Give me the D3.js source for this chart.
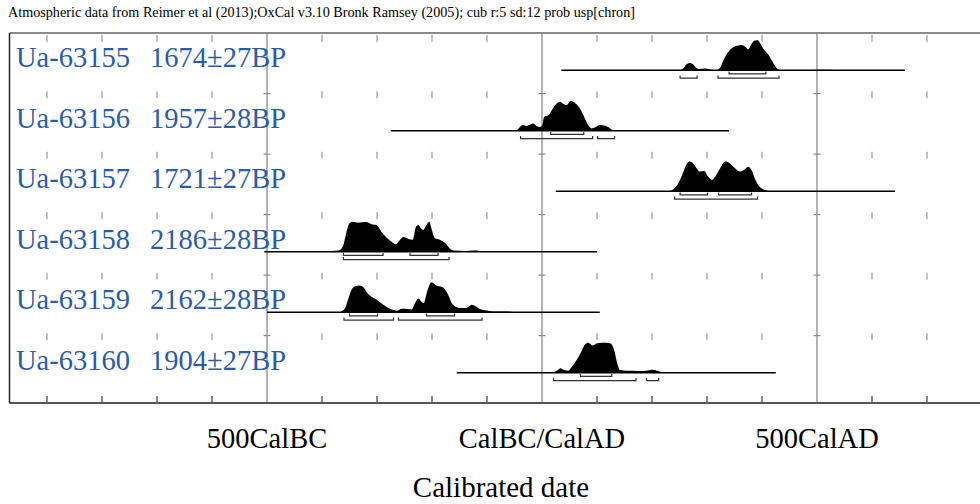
<!DOCTYPE html>
<html>
<head>
<meta charset="utf-8">
<script src="https://cdn.jsdelivr.net/npm/d3@7"></script>
<style>
  body { margin: 0; background: #fff; }
  svg { display: block; }
  text { font-family: "Liberation Serif", "Times New Roman", serif; }
</style>
</head>
<body>
<svg id="chart" width="980" height="504"></svg>
<script>
// ########## DANE ##########
const titleText = "Atmospheric data from Reimer et al (2013);OxCal v3.10 Bronk Ramsey (2005); cub r:5 sd:12 prob usp[chron]";
const sampleIds = ["Ua-63155", "Ua-63156", "Ua-63157", "Ua-63158", "Ua-63159", "Ua-63160"];
const bpDates = ["1674\u00b127BP", "1957\u00b128BP", "1721\u00b127BP", "2186\u00b128BP", "2162\u00b128BP", "1904\u00b127BP"];

// zakres linii bazowej (lata kalendarzowe, BC ujemne)
const lineRanges = [[35, 660], [-275, 340], [25, 642], [-505, 100], [-500, 105], [-155, 425]];

// rozkłady prawdopodobieństwa [rok, względna wysokość]
const dens63155 = [[251, 0], [257, 0.07], [263, 0.2], [269, 0.24], [275, 0.19], [281, 0.07], [287, 0.04],
  [296, 0.06], [305, 0.03], [318, 0.01], [324, 0.09], [330, 0.34], [339, 0.62], [348, 0.77], [357, 0.83],
  [363, 0.84], [369, 0.79], [375, 0.7], [381, 0.88], [387, 0.99], [392, 1.0], [396, 0.92], [402, 0.73],
  [412, 0.51], [421, 0.23], [427, 0.07], [432, 0.01], [480, 0.005], [500, 0.02], [525, 0.02], [535, 0]];
const dens63156 = [[-46, 0], [-40, 0.13], [-34, 0.19], [-28, 0.16], [-22, 0.2], [-16, 0.24], [-10, 0.16],
  [-4, 0.13], [0, 0.16], [4, 0.47], [12, 0.52], [18, 0.69], [24, 0.86], [33, 0.97], [39, 0.89], [45, 0.86],
  [52, 0.99], [60, 0.93], [69, 0.74], [78, 0.41], [84, 0.19], [90, 0.08], [96, 0.11], [105, 0.19],
  [115, 0.17], [124, 0.08], [130, 0]];
const dens63157 = [[230, 0], [239, 0.07], [248, 0.27], [256, 0.6], [262, 0.88], [268, 0.99], [275, 0.93],
  [281, 0.77], [287, 0.66], [295, 0.68], [302, 0.49], [309, 0.38], [315, 0.49], [324, 0.77], [333, 0.99],
  [339, 0.96], [348, 0.82], [360, 0.66], [367, 0.71], [375, 0.82], [381, 0.71], [387, 0.43], [393, 0.21],
  [402, 0.07], [415, 0]];
const dens63158 = [[-420, 0], [-392, 0.01], [-370, 0.04], [-362, 0.18], [-356, 0.62], [-350, 0.95],
  [-344, 1.0], [-334, 0.97], [-320, 0.99], [-310, 0.92], [-301, 0.89], [-292, 0.67], [-282, 0.46],
  [-273, 0.33], [-266, 0.25], [-258, 0.4], [-252, 0.49], [-243, 0.43], [-235, 0.4], [-229, 0.84],
  [-225, 0.89], [-220, 0.78], [-216, 0.73], [-210, 0.89], [-205, 1.0], [-201, 0.78], [-195, 0.46],
  [-186, 0.4], [-176, 0.29], [-167, 0.1], [-161, 0.04], [-137, 0.03], [-125, 0.04], [-113, 0.03],
  [-89, 0.02], [-58, 0.02], [-40, 0]];
const dens63159 = [[-380, 0], [-367, 0.01], [-358, 0.14], [-352, 0.46], [-346, 0.76], [-340, 0.87],
  [-331, 0.89], [-325, 0.84], [-319, 0.68], [-310, 0.52], [-301, 0.43], [-292, 0.3], [-282, 0.17],
  [-273, 0.09], [-264, 0.05], [-255, 0.12], [-246, 0.11], [-237, 0.09], [-231, 0.3], [-225, 0.46],
  [-219, 0.35], [-215, 0.3], [-210, 0.62], [-205, 0.89], [-201, 1.0], [-192, 0.89], [-182, 0.84],
  [-175, 0.73], [-169, 0.52], [-164, 0.3], [-155, 0.17], [-146, 0.14], [-137, 0.15], [-128, 0.25],
  [-120, 0.19], [-113, 0.11], [-101, 0.06], [-89, 0.03], [-64, 0.03], [-52, 0]];
const dens63160 = [[18, 0], [27, 0.07], [34, 0.15], [40, 0.09], [48, 0.07], [54, 0.2], [63, 0.43],
  [72, 0.72], [78, 0.94], [84, 1.0], [92, 0.91], [99, 0.98], [109, 1.0], [118, 1.0], [125, 0.98],
  [131, 0.77], [136, 0.38], [142, 0.09], [154, 0.07], [166, 0.07], [178, 0.06], [190, 0.07], [201, 0.1],
  [209, 0.07], [218, 0.02], [227, 0]];
const densities = [dens63155, dens63156, dens63157, dens63158, dens63159, dens63160];

// przedziały 68.2% i 95.4%
const ranges68 = [[[340, 407]], [[16, 76]], [[251, 301], [321, 381]], [[-361, -289], [-240, -189]],
  [[-350, -299], [-210, -159]], [[70, 127]]];
const ranges95 = [[[251, 282], [320, 431]], [[-39, 92], [101, 132]], [[241, 392]], [[-361, -169]],
  [[-360, -270], [-261, -109]], [[21, 171], [190, 212]]];

// oś
const minorYears = d3.range(-900, 901, 100).filter(y => y % 500 !== 0);
const majorYears = [-500, 0, 500];
const majorLabels = ["500CalBC", "CalBC/CalAD", "500CalAD"];
const axisTitle = "Calibrated date";

// ########## UKŁAD ##########
const WIDTH = 980, HEIGHT = 504;
const FRAME_LEFT = 9.5, FRAME_TOP = 33, FRAME_BOTTOM = 403;
const ROW0 = 70.3, ROW_STEP = 60.5, PEAK_H = 30;
const BLUE = "#2a5ca8";

const svg = d3.select("#chart");

const x = d3.scaleLinear().domain([-1000, 1000]).range([-8, 1092]);
const h = d3.scaleLinear().domain([0, 1]).range([0, PEAK_H]);
const rowY = d3.scaleLinear().domain([0, 1]).range([ROW0, ROW0 + ROW_STEP]);

// tytuł
svg.append("text")
  .attr("x", 8).attr("y", 17)
  .attr("font-size", 14)
  .attr("textLength", 627)
  .attr("lengthAdjust", "spacingAndGlyphs")
  .text(titleText);

// ########## SIATKA ##########
const gridGroup = svg.append("g");

// główne linie pionowe
gridGroup.selectAll("line.major")
  .data(majorYears)
  .enter()
  .append("line")
  .attr("x1", d => x(d)).attr("x2", d => x(d))
  .attr("y1", FRAME_TOP).attr("y2", FRAME_BOTTOM)
  .attr("stroke", "#8a8a8a")
  .attr("stroke-width", 1.3);

// drobne kreski w każdym wierszu
sampleIds.forEach((id, i) => {
  const top = Math.max(rowY(i) - 39.5, FRAME_TOP + 2);
  gridGroup.selectAll("line.minor" + i)
    .data(minorYears)
    .enter()
    .append("line")
    .attr("x1", d => x(d)).attr("x2", d => x(d))
    .attr("y1", top).attr("y2", top + 6.7)
    .attr("stroke", "#a6a6a6")
    .attr("stroke-width", 1.4);
  if (i > 0) {
    gridGroup.selectAll("line.plus" + i)
      .data(majorYears)
      .enter()
      .append("line")
      .attr("x1", d => x(d) - 3.5).attr("x2", d => x(d) + 3.5)
      .attr("y1", top + 2.3).attr("y2", top + 2.3)
      .attr("stroke", "#8a8a8a")
      .attr("stroke-width", 1.2);
  }
});

// kreski na osi dolnej
gridGroup.selectAll("line.axisTick")
  .data(minorYears)
  .enter()
  .append("line")
  .attr("x1", d => x(d)).attr("x2", d => x(d))
  .attr("y1", FRAME_BOTTOM - 7).attr("y2", FRAME_BOTTOM)
  .attr("stroke", "#555")
  .attr("stroke-width", 1.4);

// ramka
svg.append("line")
  .attr("x1", FRAME_LEFT).attr("x2", WIDTH)
  .attr("y1", FRAME_TOP).attr("y2", FRAME_TOP)
  .attr("stroke", "#8a8a8a").attr("stroke-width", 2);
svg.append("line")
  .attr("x1", FRAME_LEFT).attr("x2", WIDTH)
  .attr("y1", FRAME_BOTTOM).attr("y2", FRAME_BOTTOM)
  .attr("stroke", "#555").attr("stroke-width", 2);
svg.append("line")
  .attr("x1", FRAME_LEFT).attr("x2", FRAME_LEFT)
  .attr("y1", FRAME_TOP).attr("y2", FRAME_BOTTOM)
  .attr("stroke", "#222").attr("stroke-width", 1.5);

// ########## WIERSZE ##########
const rows = svg.selectAll("g.row")
  .data(sampleIds.map((id, i) => ({
    id: id, bp: bpDates[i], line: lineRanges[i], dens: densities[i],
    r68: ranges68[i], r95: ranges95[i], base: rowY(i)
  })))
  .enter()
  .append("g")
  .attr("class", "row");

// etykiety
rows.append("text")
  .attr("x", 16)
  .attr("y", d => d.base - 3)
  .attr("font-size", 28.5)
  .attr("fill", BLUE)
  .text(d => d.id);
rows.append("text")
  .attr("x", 150)
  .attr("y", d => d.base - 3)
  .attr("font-size", 28.5)
  .attr("fill", BLUE)
  .text(d => d.bp);

// linia bazowa
rows.append("line")
  .attr("x1", d => x(d.line[0])).attr("x2", d => x(d.line[1]))
  .attr("y1", d => d.base).attr("y2", d => d.base)
  .attr("stroke", "#000")
  .attr("stroke-width", 1.6);

// rozkład
rows.append("path")
  .attr("fill", "#000")
  .attr("d", d => d3.area()
    .x(p => x(p[0]))
    .y0(d.base)
    .y1(p => d.base - h(p[1]))
    .curve(d3.curveMonotoneX)(d.dens));

// nawiasy przedziałów
function bracketPath(r, y) {
  return `M${x(r[0])},${y - 2.5}V${y}H${x(r[1])}V${y - 2.5}`;
}
rows.each(function(d) {
  const g = d3.select(this);
  g.selectAll("path.r68")
    .data(d.r68)
    .enter()
    .append("path")
    .attr("d", r => bracketPath(r, d.base + 3.6))
    .attr("fill", "none").attr("stroke", "#333").attr("stroke-width", 1.2);
  g.selectAll("path.r95")
    .data(d.r95)
    .enter()
    .append("path")
    .attr("d", r => bracketPath(r, d.base + 7.8))
    .attr("fill", "none").attr("stroke", "#333").attr("stroke-width", 1.2);
});

// ########## OPISY OSI ##########
svg.selectAll("text.major")
  .data(majorYears)
  .enter()
  .append("text")
  .attr("x", d => x(d))
  .attr("y", 448)
  .attr("text-anchor", "middle")
  .attr("font-size", 28.5)
  .text((d, i) => majorLabels[i]);

svg.append("text")
  .attr("x", 501).attr("y", 497)
  .attr("text-anchor", "middle")
  .attr("font-size", 29)
  .text(axisTitle);
</script>
</body>
</html>
